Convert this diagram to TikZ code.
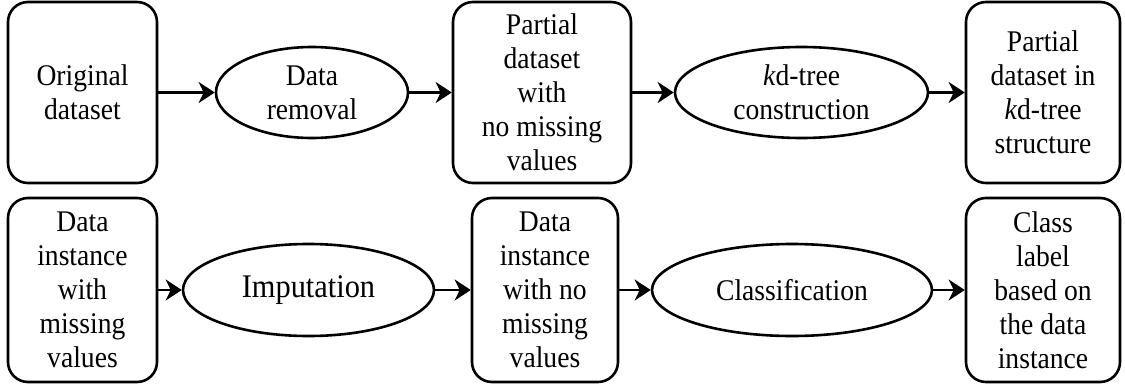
\documentclass[tikz,border=0pt]{standalone}
\usepackage{fontspec}
\setmainfont{Liberation Serif}[FakeStretch=0.92]
\usetikzlibrary{shapes.geometric,arrows.meta}

\tikzset{
  base/.style={draw=black, line width=2.6pt, inner sep=0pt},
  databox/.style={base, rectangle, rounded corners=20pt, align=center,
    font=\fontsize{30}{34}\selectfont},
  procshape/.style={base, ellipse},
  proctext/.style={align=center, inner sep=0pt, font=\fontsize{30}{34}\selectfont},
  flow/.style={line width=2.6pt, -{Stealth[length=16pt,width=21pt,inset=5pt]}}
}

\begin{document}
\begin{tikzpicture}[x=1pt,y=-1pt]
\useasboundingbox (0,0) rectangle (1125,388);

% top row: building the kd-tree
\node[databox, minimum width=149pt, minimum height=181pt] (orig) at (82.5,92.5) {Original\\dataset};
\node[procshape, minimum width=192pt, minimum height=91pt] (rem) at (312,92.5) {};
\node[proctext] (remtxt) at (rem) {Data\\removal};
\node[databox, minimum width=178pt, minimum height=181pt] (part) at (542,92.5) {Partial\\dataset\\with\\no missing\\values};
\node[procshape, minimum width=253pt, minimum height=91pt] (cons) at (801.5,92.5) {};
\node[proctext] (constxt) at (cons) {\textit{k}d-tree\\construction};
\node[databox, minimum width=154pt, minimum height=181pt] (tree) at (1043,92.5) {Partial\\dataset in\\\textit{k}d-tree\\structure};

% bottom row: imputing and classifying an instance
\node[databox, minimum width=149pt, minimum height=184pt] (inst) at (82.5,290) {Data\\instance\\with\\missing\\values};
\node[procshape, minimum width=251pt, minimum height=92pt] (imp) at (308.5,290) {};
\node[proctext, font=\fontsize{33}{36}\selectfont] (imptxt) at (imp) {Imputation};
\node[databox, minimum width=146pt, minimum height=184pt] (full) at (545,290) {Data\\instance\\with no\\missing\\values};
\node[procshape, minimum width=280pt, minimum height=92pt] (cls) at (792,290) {};
\node[proctext] (clstxt) at (cls) {Classification};
\node[databox, minimum width=154pt, minimum height=184pt] (lab) at (1043,290) {Class\\label\\based on\\the data\\instance};

% connectors
\draw[flow] (orig.east) -- (rem.west);
\draw[flow] (rem.east) -- (part.west);
\draw[flow] (part.east) -- (cons.west);
\draw[flow] (cons.east) -- (tree.west);
\draw[flow] (inst.east) -- (imp.west);
\draw[flow] (imp.east) -- (full.west);
\draw[flow] (full.east) -- (cls.west);
\draw[flow] (cls.east) -- (lab.west);
\end{tikzpicture}
\end{document}
